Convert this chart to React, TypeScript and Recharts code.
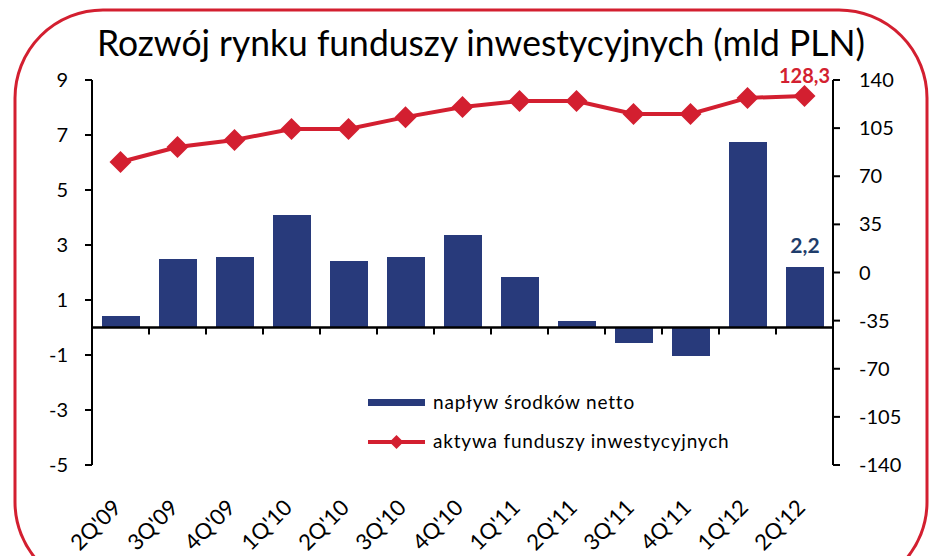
import React from "react";
import {
  ComposedChart,
  Bar,
  Line,
  XAxis,
  YAxis,
  ReferenceLine,
  LabelList,
} from "recharts";

const quarters = ["2Q'09", "3Q'09", "4Q'09", "1Q'10", "2Q'10", "3Q'10", "4Q'10", "1Q'11", "2Q'11", "3Q'11", "4Q'11", "1Q'12", "2Q'12"];
const inflows = [0.42, 2.49, 2.56, 4.09, 2.42, 2.56, 3.36, 1.84, 0.24, -0.56, -1.04, 6.75, 2.2];
const assets = [80.4, 91.3, 96.4, 104.4, 104.4, 113, 120.4, 124.7, 124.7, 115.3, 115.3, 127, 128.3];
const leftTicks = [-5, -3, -1, 1, 3, 5, 7, 9];
const rightTicks = [-140, -105, -70, -35, 0, 35, 70, 105, 140];

const W = 932;
const H = 556;
const TOP = 80;
const BOTTOM = 91;
const PLOT_H = H - TOP - BOTTOM;
// y of left-axis zero inside the plot
const ZERO_Y = TOP + (9 / 14) * PLOT_H;

const RED = "#d31f30";
const NAVY = "#283a7b";
const FONT = "Lato, 'Open Sans', sans-serif";

const data = quarters.map((q, i) => ({ q, inflow: inflows[i], assets: assets[i] }));

function QuarterTick(props: any) {
  const { x, y, payload, index } = props;
  const half = payload.offset ?? 0;
  return (
    <g>
      {index < quarters.length - 1 && (
        <line x1={x + half} x2={x + half} y1={ZERO_Y} y2={ZERO_Y + 7} stroke="#000" strokeWidth={2} />
      )}
      <g transform={`translate(${x + 2},${y + 36}) rotate(-45)`}>
        <text x={0} y={0} textAnchor="end" fontSize={22} fontFamily={FONT} fill="#000">
          {payload.value}
        </text>
      </g>
    </g>
  );
}

function Diamond(props: any) {
  const { cx, cy } = props;
  if (cx == null || cy == null) return null;
  const r = 11;
  return <path d={`M${cx},${cy - r}L${cx + r},${cy}L${cx},${cy + r}L${cx - r},${cy}Z`} fill={RED} />;
}

function LastBarLabel(props: any) {
  const { x, y, width, value, index } = props;
  if (index !== inflows.length - 1) return null;
  return (
    <text x={x + width / 2} y={y - 14} textAnchor="middle" fontSize={21} fontWeight="bold" fontFamily={FONT} fill="#1f3d6b">
      {String(value).replace(".", ",")}
    </text>
  );
}

function LastLineLabel(props: any) {
  const { x, y, value, index } = props;
  if (index !== assets.length - 1) return null;
  return (
    <text x={x} y={y - 13} textAnchor="middle" fontSize={20} fontWeight="bold" fontFamily={FONT} fill={RED}>
      {String(value).replace(".", ",")}
    </text>
  );
}

export default function App() {
  return (
    <div style={{ position: "absolute", left: 0, top: 0, width: W, height: H, background: "#fff", overflow: "hidden" }}>
      <ComposedChart width={W} height={H} data={data} margin={{ top: TOP, right: 0, left: 0, bottom: 0 }}>
        <XAxis
          dataKey="q"
          xAxisId="x"
          axisLine={false}
          tickLine={false}
          interval={0}
          height={BOTTOM}
          tick={<QuarterTick />}
        />
        <YAxis
          yAxisId="left"
          domain={[-5, 9]}
          ticks={leftTicks}
          width={92}
          axisLine={{ stroke: "#000", strokeWidth: 2 }}
          tickLine={{ stroke: "#000", strokeWidth: 2 }}
          tickSize={7}
          tickMargin={17}
          tick={{ fill: "#000", fontSize: 20, fontFamily: FONT }}
          interval={0}
        />
        <YAxis
          yAxisId="right"
          orientation="right"
          domain={[-140, 140]}
          ticks={rightTicks}
          width={W - 833}
          axisLine={{ stroke: "#000", strokeWidth: 2 }}
          tickLine={{ stroke: "#000", strokeWidth: 2 }}
          tickSize={7}
          tickMargin={19}
          tick={{ fill: "#000", fontSize: 20, fontFamily: FONT }}
          interval={0}
        />
        <Bar dataKey="inflow" xAxisId="x" yAxisId="left" fill={NAVY} barSize={38} isAnimationActive={false}>
          <LabelList dataKey="inflow" content={<LastBarLabel />} />
        </Bar>
        <ReferenceLine xAxisId="x" yAxisId="left" y={0} stroke="#000" strokeWidth={2.5} />
        <Line
          dataKey="assets"
          xAxisId="x"
          yAxisId="right"
          stroke={RED}
          strokeWidth={4}
          dot={<Diamond />}
          activeDot={false}
          isAnimationActive={false}
        >
          <LabelList dataKey="assets" content={<LastLineLabel />} />
        </Line>
      </ComposedChart>

      <svg width={W} height={H} style={{ position: "absolute", left: 0, top: 0, pointerEvents: "none" }}>
        <rect x={15} y={10} width={912} height={580} rx={88} ry={88} fill="none" stroke={RED} strokeWidth={3} />
        <text
          x={97}
          y={56}
          textLength={768}
          lengthAdjust="spacingAndGlyphs"
          fontSize={36}
          fontFamily={FONT}
          fill="#000"
        >
          Rozwój rynku funduszy inwestycyjnych (mld PLN)
        </text>
        <rect x={368} y={399} width={57} height={7} fill={NAVY} />
        <text x={433} y={409} fontSize={19} fontFamily={FONT} fill="#000" letterSpacing={0.8}>
          napływ środków netto
        </text>
        <line x1={368} x2={425} y1={442} y2={442} stroke={RED} strokeWidth={4} />
        <path d="M396.5,435L403.5,442L396.5,449L389.5,442Z" fill={RED} />
        <text x={433} y={448} fontSize={19} fontFamily={FONT} fill="#000" letterSpacing={0.8}>
          aktywa funduszy inwestycyjnych
        </text>
      </svg>
    </div>
  );
}
